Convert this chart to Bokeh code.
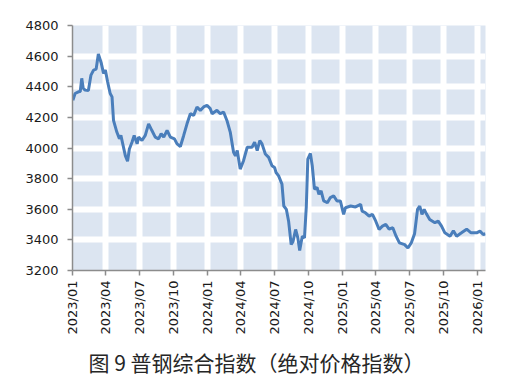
import pandas as pd
from math import pi
from bokeh.plotting import figure
from bokeh.models import (MonthsTicker, DatetimeTickFormatter, FixedTicker, Range1d, Title)
from bokeh.embed import file_html
from bokeh.resources import INLINE

dates = [
    "2023-01-02", "2023-01-08", "2023-01-17", "2023-01-22", "2023-01-26", "2023-01-30", "2023-02-04",
    "2023-02-13", "2023-02-20", "2023-02-27", "2023-03-06", "2023-03-12", "2023-03-20", "2023-03-26",
    "2023-03-31", "2023-04-06", "2023-04-13", "2023-04-18", "2023-04-22", "2023-05-01", "2023-05-08",
    "2023-05-12", "2023-05-18", "2023-05-24", "2023-05-30", "2023-06-04", "2023-06-11", "2023-06-17",
    "2023-06-25", "2023-06-29", "2023-07-08", "2023-07-17", "2023-07-26", "2023-08-04", "2023-08-13",
    "2023-08-22", "2023-08-29", "2023-09-05", "2023-09-14", "2023-09-23", "2023-10-04", "2023-10-11",
    "2023-10-20", "2023-10-29", "2023-11-07", "2023-11-16", "2023-11-25", "2023-12-04", "2023-12-13",
    "2023-12-22", "2023-12-31", "2024-01-09", "2024-01-14", "2024-01-27", "2024-02-05", "2024-02-14",
    "2024-02-23", "2024-03-03", "2024-03-12", "2024-03-17", "2024-03-22", "2024-03-30", "2024-04-08",
    "2024-04-18", "2024-05-01", "2024-05-08", "2024-05-15", "2024-05-22", "2024-05-28", "2024-06-06",
    "2024-06-15", "2024-06-24", "2024-07-01", "2024-07-05", "2024-07-12", "2024-07-21", "2024-07-26",
    "2024-08-02", "2024-08-08", "2024-08-15", "2024-08-20", "2024-08-27", "2024-09-02", "2024-09-07",
    "2024-09-14", "2024-09-20", "2024-09-25", "2024-09-29", "2024-10-06", "2024-10-11", "2024-10-17",
    "2024-10-24", "2024-10-29", "2024-11-04", "2024-11-11", "2024-11-21", "2024-11-29", "2024-12-08",
    "2024-12-17", "2024-12-26", "2025-01-04", "2025-01-09", "2025-01-23", "2025-02-05", "2025-02-19",
    "2025-02-23", "2025-03-04", "2025-03-14", "2025-03-23", "2025-04-01", "2025-04-10", "2025-04-19",
    "2025-04-28", "2025-05-07", "2025-05-17", "2025-05-26", "2025-06-04", "2025-06-18", "2025-06-27",
    "2025-07-06", "2025-07-15", "2025-07-23", "2025-07-29", "2025-08-04", "2025-08-10", "2025-08-16",
    "2025-08-25", "2025-09-08", "2025-09-17", "2025-09-26", "2025-10-05", "2025-10-19", "2025-10-28",
    "2025-11-06", "2025-11-19", "2025-12-03", "2025-12-15", "2025-12-30", "2026-01-08", "2026-01-17",
    "2026-01-23",
]
index_values = [
    4312, 4356, 4367, 4369, 4455, 4390, 4378,
    4375, 4476, 4509, 4515, 4614, 4553, 4487,
    4509, 4433, 4356, 4334, 4180, 4104, 4060,
    4082, 4016, 3950, 3913, 3994, 4038, 4082,
    4027, 4071, 4049, 4082, 4158, 4114, 4071,
    4060, 4093, 4071, 4114, 4071, 4060, 4027,
    4010, 4082, 4158, 4224, 4213, 4268, 4246,
    4268, 4279, 4257, 4224, 4246, 4224, 4235,
    4180, 4104, 3972, 3950, 3983, 3862, 3917,
    4005, 4005, 4038, 3983, 4049, 4027, 3961,
    3939, 3884, 3873, 3840, 3818, 3764, 3621,
    3599, 3522, 3369, 3390, 3468, 3413, 3330,
    3424, 3413, 3621, 3928, 3965, 3884, 3731,
    3742, 3698, 3720, 3654, 3643, 3676, 3687,
    3654, 3654, 3566, 3610, 3621, 3615, 3632,
    3588, 3577, 3555, 3566, 3522, 3468, 3490,
    3501, 3470, 3479, 3424, 3380, 3369, 3347,
    3380, 3440, 3599, 3621, 3566, 3599, 3570,
    3533, 3512, 3522, 3490, 3446, 3424, 3460,
    3424, 3446, 3470, 3446, 3446, 3457, 3435,
    3440,
]
y_ticks = [3200, 3400, 3600, 3800, 4000, 4200, 4400, 4600, 4800]
tick_months = [0, 3, 6, 9]  # Jan, Apr, Jul, Oct (Bokeh months are 0-based)
caption = "图 9 普钢综合指数（绝对价格指数）"

x = pd.to_datetime(dates)

p = figure(width=499, height=383, x_axis_type="datetime",
           output_backend="svg", toolbar_location=None,
           x_range=Range1d(pd.Timestamp("2023-01-01"), pd.Timestamp("2026-01-23")),
           y_range=Range1d(3200, 4800),
           min_border_left=72, min_border_right=14, min_border_top=25, min_border_bottom=113)

p.background_fill_color = "#dce5f1"
p.border_fill_color = "white"
p.outline_line_color = None

p.line(x, index_values, line_color="#4a7ebb", line_width=3)

p.xaxis.ticker = MonthsTicker(months=tick_months)
p.xaxis.formatter = DatetimeTickFormatter(months="%Y/%m", days="%Y/%m", years="%Y/%m")
p.xaxis.major_label_orientation = pi / 2
p.yaxis.ticker = FixedTicker(ticks=y_ticks)

for ax in (p.xaxis, p.yaxis):
    ax.axis_line_color = "#8c8c8c"
    ax.axis_line_width = 1.5
    ax.major_tick_line_color = "#8c8c8c"
    ax.major_tick_line_width = 1.5
    ax.major_tick_out = 5
    ax.major_tick_in = 0
    ax.minor_tick_line_color = None
    ax.major_label_text_font = "DejaVu Sans"
    ax.major_label_text_font_size = "13px"
    ax.major_label_text_color = "#1a1a1a"
p.yaxis.major_label_standoff = 9
p.xaxis.major_label_standoff = 5

p.xgrid.ticker = MonthsTicker(months=tick_months)
p.ygrid.ticker = FixedTicker(ticks=y_ticks)
p.grid.grid_line_color = "white"
p.grid.grid_line_width = 6

p.add_layout(Title(text=caption, text_font="Noto Sans CJK SC", text_font_size="21px",
                   text_font_style="normal", text_color="#262626", align="left",
                   offset=16, standoff=14), "below")

open("out.html", "w").write(file_html(p, INLINE))
